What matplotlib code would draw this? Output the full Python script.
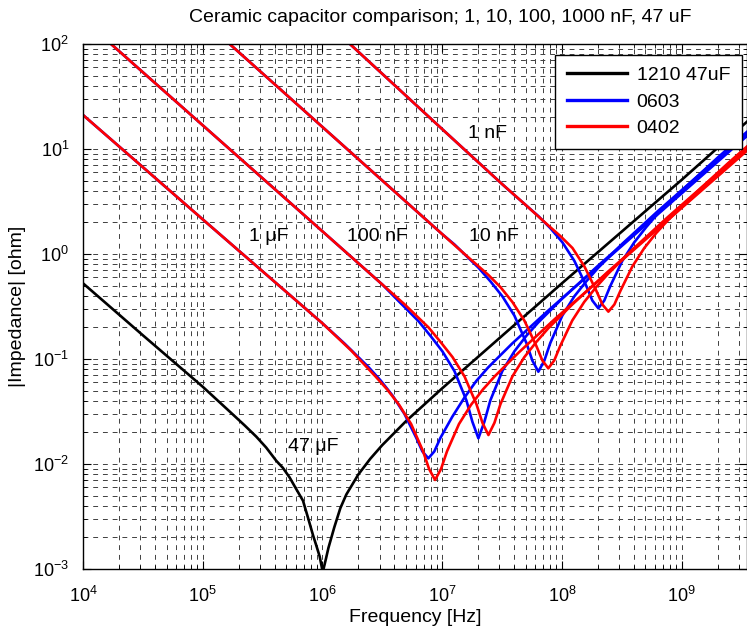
import numpy as np
import matplotlib.pyplot as plt
from matplotlib.ticker import LogLocator, NullFormatter

plt.rcParams['font.family'] = ['Liberation Sans', 'DejaVu Sans']
plt.rcParams['mathtext.fontset'] = 'custom'
plt.rcParams['mathtext.rm'] = 'Liberation Sans'
plt.rcParams['mathtext.it'] = 'Liberation Sans:italic'

# values: log10(frequency in Hz), log10(|Z| in ohm)
# 1210 47uF
k47u_logf = [4.0, 4.5, 5.0, 5.225, 5.35, 5.448, 5.53, 5.615, 5.67, 5.727, 5.78, 5.838, 5.88, 5.922, 5.95, 5.977,
             6.003, 6.03, 6.05, 6.1, 6.15, 6.2, 6.3, 6.4, 6.5, 6.7, 7.0, 7.5, 8.0, 9.0, 9.547]
k47u_logz = [-0.279, -0.774, -1.264, -1.50, -1.632, -1.74, -1.843, -1.97, -2.037, -2.13, -2.236, -2.35, -2.513, -2.68,
             -2.78, -2.88, -3.03, -2.90, -2.80, -2.60, -2.42, -2.29, -2.10, -1.95, -1.82, -1.59, -1.28, -0.78, -0.28, 0.705, 1.26]

# 0603 (blue)
b1n_logf = [6.23, 7.0, 7.5, 7.605, 7.805, 7.905, 8.005, 8.105, 8.205, 8.255, 8.305, 8.355, 8.405, 8.505, 8.605, 8.705, 8.805, 9.005, 9.305, 9.547]
b1n_logz = [2.0, 1.19, 0.667, 0.56, 0.36, 0.245, 0.111, -0.066, -0.305, -0.443, -0.517, -0.443, -0.305, -0.066, 0.111, 0.256, 0.39, 0.607, 0.921, 1.164]
b10n_logf = [5.225, 6.0, 7.0, 7.104, 7.304, 7.404, 7.504, 7.604, 7.704, 7.754, 7.804, 7.854, 7.904, 8.004, 8.104, 8.204, 8.304, 8.504, 8.804, 9.547]
b10n_logz = [2.0, 1.21, 0.19, 0.09, -0.131, -0.261, -0.404, -0.587, -0.847, -1.015, -1.121, -1.015, -0.847, -0.587, -0.404, -0.261, -0.131, 0.096, 0.41, 1.154]
b100n_logf = [4.234, 5.0, 6.0, 6.5, 6.603, 6.803, 6.903, 7.003, 7.103, 7.203, 7.253, 7.303, 7.353, 7.403, 7.503, 7.603, 7.703, 7.803, 8.003, 8.303, 9.547]
b100n_logz = [2.0, 1.226, 0.216, -0.29, -0.41, -0.64, -0.78, -0.928, -1.115, -1.394, -1.598, -1.755, -1.598, -1.394, -1.115, -0.928, -0.78, -0.652, -0.425, -0.111, 1.134]
b1u_logf = [4.0, 5.0, 6.0, 6.185, 6.385, 6.485, 6.585, 6.685, 6.785, 6.835, 6.885, 6.935, 6.985, 7.085, 7.185, 7.285, 7.385, 7.585, 7.885, 9.547]
b1u_logz = [1.324, 0.33, -0.66, -0.853, -1.077, -1.203, -1.347, -1.522, -1.753, -1.88, -1.946, -1.88, -1.753, -1.55, -1.37, -1.21, -1.08, -0.853, -0.54, 1.124]

# 0402 (red)
r1n_logf = [6.23, 7.0, 7.5, 7.689, 7.889, 7.989, 8.089, 8.189, 8.289, 8.339, 8.389, 8.439, 8.489, 8.589, 8.689, 8.789, 8.889, 9.089, 9.389, 9.547]
r1n_logz = [2.0, 1.19, 0.667, 0.476, 0.27, 0.17, 0.057, -0.119, -0.352, -0.481, -0.549, -0.481, -0.352, -0.119, 0.057, 0.2, 0.325, 0.551, 0.865, 1.024]
r10n_logf = [5.225, 6.0, 7.0, 7.187, 7.387, 7.487, 7.587, 7.687, 7.787, 7.837, 7.887, 7.937, 7.987, 8.087, 8.187, 8.287, 8.387, 8.587, 8.887, 9.547]
r10n_logz = [2.0, 1.21, 0.19, 0.0, -0.2, -0.315, -0.457, -0.634, -0.875, -1.013, -1.089, -1.013, -0.875, -0.634, -0.457, -0.315, -0.188, 0.039, 0.353, 1.014]
r100n_logf = [4.234, 5.0, 6.0, 6.5, 6.687, 6.887, 6.987, 7.087, 7.187, 7.287, 7.337, 7.387, 7.437, 7.487, 7.587, 7.687, 7.787, 7.887, 8.087, 8.387, 9.547]
r100n_logz = [2.0, 1.226, 0.216, -0.29, -0.48, -0.70, -0.838, -0.982, -1.166, -1.431, -1.608, -1.724, -1.608, -1.431, -1.166, -0.982, -0.838, -0.707, -0.481, -0.167, 0.994]
r1u_logf = [4.0, 5.0, 6.0, 6.241, 6.441, 6.541, 6.641, 6.741, 6.841, 6.891, 6.941, 6.991, 7.041, 7.141, 7.241, 7.341, 7.441, 7.641, 7.941, 9.547]
r1u_logz = [1.324, 0.33, -0.66, -0.92, -1.163, -1.29, -1.437, -1.619, -1.879, -2.047, -2.152, -2.047, -1.879, -1.619, -1.437, -1.29, -1.163, -0.937, -0.62, 0.984]

legend_labels = ['1210 47uF', '0603', '0402']
cap_labels = ['1 nF', '10 nF', '100 nF', '1 \u03bcF', '47 \u03bcF']

fig = plt.figure(figsize=(7.47, 6.3), dpi=100)
ax = fig.add_axes([83 / 747, 61 / 630, 664 / 747, 525 / 630])

lw = 1.9
ax.plot(10 ** np.array(k47u_logf), 10 ** np.array(k47u_logz), color='k', lw=lw, label=legend_labels[0])
blue = [(b1n_logf, b1n_logz), (b10n_logf, b10n_logz), (b100n_logf, b100n_logz), (b1u_logf, b1u_logz)]
red = [(r1n_logf, r1n_logz), (r10n_logf, r10n_logz), (r100n_logf, r100n_logz), (r1u_logf, r1u_logz)]
for i, (lf, lz) in enumerate(blue):
    ax.plot(10 ** np.array(lf), 10 ** np.array(lz), color='#0000ff', lw=lw,
            label=legend_labels[1] if i == 0 else None)
for i, (lf, lz) in enumerate(red):
    ax.plot(10 ** np.array(lf), 10 ** np.array(lz), color='#ff0000', lw=lw,
            label=legend_labels[2] if i == 0 else None)

ax.set_xscale('log')
ax.set_yscale('log')
ax.set_xlim(1e4, 10 ** 9.547)
ax.set_ylim(1e-3, 1e2)

ax.xaxis.set_major_locator(LogLocator(base=10, numticks=20))
ax.yaxis.set_major_locator(LogLocator(base=10, numticks=20))
ax.xaxis.set_minor_locator(LogLocator(base=10, subs=np.arange(2, 10), numticks=100))
ax.yaxis.set_minor_locator(LogLocator(base=10, subs=np.arange(2, 10), numticks=100))
ax.xaxis.set_minor_formatter(NullFormatter())
ax.yaxis.set_minor_formatter(NullFormatter())

ax.grid(True, which='both', linestyle=(0, (5, 5)), color='0.25', linewidth=0.7)
ax.tick_params(which='both', direction='in', top=True, right=True, labelsize=13)
ax.tick_params(which='major', length=6)
ax.tick_params(which='minor', length=3)
ax.tick_params(axis='x', which='major', pad=12)
ax.tick_params(axis='y', which='major', pad=10)
for s in ax.spines.values():
    s.set_linewidth(1.0)

fs = 14
ax.set_title('Ceramic capacitor comparison; 1, 10, 100, 1000 nF, 47 uF', fontsize=fs, pad=16, x=0.5377)
ax.set_xlabel('Frequency [Hz]', fontsize=fs, labelpad=2)
ax.set_ylabel('|Impedance| [ohm]', fontsize=fs, labelpad=5)

# curve labels
ax.text(10 ** 7.383, 10 ** 1.152, cap_labels[0], fontsize=fs, ha='center', va='center')
ax.text(10 ** 7.434, 10 ** 0.162, cap_labels[1], fontsize=fs, ha='center', va='center')
ax.text(10 ** 6.456, 10 ** 0.162, cap_labels[2], fontsize=fs, ha='center', va='center')
ax.text(10 ** 5.554, 10 ** 0.162, cap_labels[3], fontsize=fs, ha='center', va='center')
ax.text(10 ** 5.92, 10 ** -1.83, cap_labels[4], fontsize=fs, ha='center', va='center')

leg = ax.legend(loc='upper right', bbox_to_anchor=(0.992, 0.979), borderaxespad=0,
                fontsize=fs, fancybox=False, framealpha=1, edgecolor='k',
                handlelength=3.1, handletextpad=0.5, labelspacing=0.45, borderpad=0.6)
leg.get_frame().set_linewidth(1.0)
for l in leg.get_lines():
    l.set_linewidth(2.4)

fig.savefig('out.png', dpi=100)
